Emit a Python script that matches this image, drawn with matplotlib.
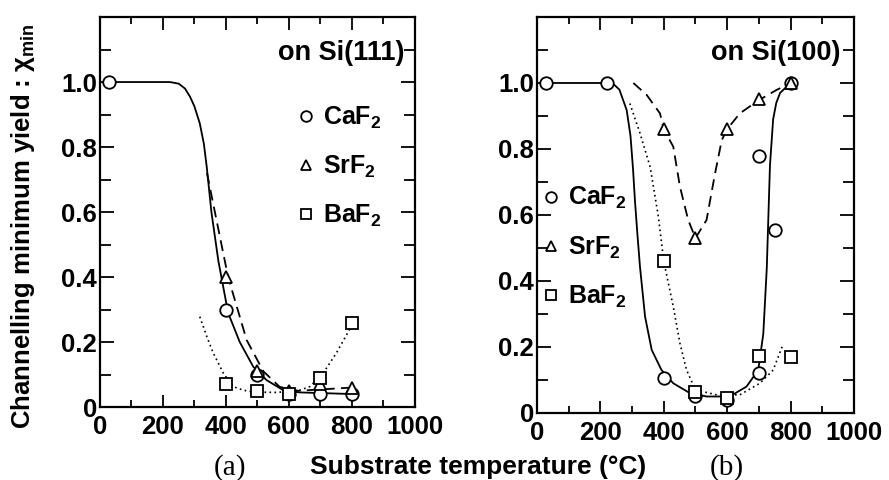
import matplotlib
matplotlib.use('Agg')
import matplotlib.pyplot as plt
from matplotlib.ticker import MultipleLocator, FuncFormatter

plt.rcParams['font.family'] = ['Liberation Sans', 'DejaVu Sans']
plt.rcParams['font.weight'] = 'bold'
plt.rcParams['axes.labelweight'] = 'bold'
plt.rcParams['mathtext.default'] = 'regular'

# ---- (a) on Si(111): measured points
a_caf2_x = [30, 400, 500, 600, 700, 800]
a_caf2_y = [1.0, 0.30, 0.10, 0.04, 0.04, 0.04]
a_srf2_x = [400, 500, 600, 700, 800]
a_srf2_y = [0.40, 0.11, 0.05, 0.07, 0.06]
a_baf2_x = [400, 500, 600, 700, 800]
a_baf2_y = [0.07, 0.05, 0.04, 0.09, 0.26]

# hand-drawn guide curves
a_caf2_fit_x = [30, 222, 250, 270, 286, 300, 317, 330, 339, 354, 376, 407, 444, 487,
                529, 582, 635, 800]
a_caf2_fit_y = [1.0, 1.0, 0.995, 0.98, 0.955, 0.925, 0.873, 0.81, 0.74, 0.60, 0.45,
                0.29, 0.20, 0.124, 0.083, 0.052, 0.045, 0.04]
a_srf2_fit_x = [340, 365, 407, 466, 519, 571, 630, 800]
a_srf2_fit_y = [0.72, 0.60, 0.40, 0.206, 0.11, 0.062, 0.05, 0.06]
a_baf2_fit_x = [317, 340, 360, 392, 423, 455, 487, 560, 630, 667, 709, 751, 804]
a_baf2_fit_y = [0.278, 0.215, 0.166, 0.104, 0.063, 0.052, 0.046, 0.045, 0.05, 0.063,
                0.104, 0.166, 0.258]

# ---- (b) on Si(100): measured points
b_caf2_x = [30, 220, 400, 500, 600, 700, 700, 750, 800]
b_caf2_y = [1.0, 1.0, 0.105, 0.05, 0.04, 0.12, 0.78, 0.555, 1.0]
b_srf2_x = [400, 500, 600, 700, 800]
b_srf2_y = [0.86, 0.53, 0.86, 0.95, 1.0]
b_baf2_x = [400, 500, 600, 700, 800]
b_baf2_y = [0.46, 0.065, 0.045, 0.173, 0.17]

b_caf2_fit_x = [30, 220, 240, 260, 283, 295, 303, 309, 317, 325, 341, 362, 393, 430,
                483, 535, 608, 661, 698, 714, 725, 735, 745, 755, 767, 800]
b_caf2_fit_y = [1.0, 1.0, 0.998, 0.98, 0.918, 0.84, 0.74, 0.645, 0.54, 0.443, 0.292,
                0.191, 0.13, 0.09, 0.06, 0.05, 0.05, 0.08, 0.13, 0.24, 0.44, 0.75,
                0.89, 0.94, 0.97, 1.0]
b_srf2_fit_x = [304, 346, 388, 400, 430, 451, 477, 500, 535, 562, 583, 600, 640, 700,
                756, 800, 835]
b_srf2_fit_y = [1.0, 0.964, 0.908, 0.86, 0.807, 0.686, 0.585, 0.53, 0.585, 0.727,
                0.827, 0.86, 0.908, 0.948, 0.979, 1.0, 1.0]
b_baf2_fit_x = [293, 325, 357, 383, 400, 430, 451, 472, 500, 567, 640, 703, 745, 777]
b_baf2_fit_y = [0.938, 0.848, 0.746, 0.595, 0.46, 0.322, 0.211, 0.13, 0.07, 0.055,
                0.055, 0.09, 0.13, 0.21]

labels = ['CaF$_2$', 'SrF$_2$', 'BaF$_2$']
panel_titles = ['on Si(111)', 'on Si(100)']

fig = plt.figure(figsize=(8.89, 4.8), dpi=100)
ax1 = fig.add_axes([0.1125, 0.152, 0.354, 0.8125])
ax2 = fig.add_axes([0.604, 0.1396, 0.3566, 0.825])

mk = dict(linestyle='none', mfc='white', mec='black', ms=9, mew=1.3, zorder=3)


def draw(ax, pts, fits):
    (cx, cy), (sx, sy), (bx, by) = fits
    ax.plot(cx, cy, '-', color='black', lw=1.3)
    ax.plot(sx, sy, color='black', lw=1.3, dashes=(6, 3.5))
    ax.plot(bx, by, color='black', lw=1.2, dashes=(1, 2))
    h = []
    for (x, y), m in zip(pts, ['o', '^', 's']):
        h.append(ax.plot(x, y, marker=m, **mk)[0])
    return h


def style(ax, title, tx):
    ax.set_xlim(0, 1000)
    ax.set_ylim(0, 1.2)
    ax.xaxis.set_major_locator(MultipleLocator(200))
    ax.xaxis.set_minor_locator(MultipleLocator(100))
    ax.yaxis.set_major_locator(MultipleLocator(0.2))
    ax.yaxis.set_minor_locator(MultipleLocator(0.1))
    ax.yaxis.set_major_formatter(FuncFormatter(lambda v, p: '0' if v == 0 else ('' if v > 1.05 else f'{v:.1f}')))
    ax.tick_params(axis='x', which='major', direction='in', top=True, length=9, width=1.3,
                   labelsize=18.5, pad=6)
    ax.tick_params(axis='x', which='minor', direction='in', top=True, length=5, width=1.3)
    ax.tick_params(axis='y', which='major', direction='in', right=True, length=10, width=1.3,
                   labelsize=18.5, pad=2)
    ax.tick_params(axis='y', which='minor', direction='in', right=True, length=8, width=1.3)
    for s in ax.spines.values():
        s.set_linewidth(1.6)
    ax.text(tx, 0.908, title, transform=ax.transAxes, ha='right', va='center', fontsize=19.5)


h1 = draw(ax1, [(a_caf2_x, a_caf2_y), (a_srf2_x, a_srf2_y), (a_baf2_x, a_baf2_y)],
          [(a_caf2_fit_x, a_caf2_fit_y), (a_srf2_fit_x, a_srf2_fit_y), (a_baf2_fit_x, a_baf2_fit_y)])
h2 = draw(ax2, [(b_caf2_x, b_caf2_y), (b_srf2_x, b_srf2_y), (b_baf2_x, b_baf2_y)],
          [(b_caf2_fit_x, b_caf2_fit_y), (b_srf2_fit_x, b_srf2_fit_y), (b_baf2_fit_x, b_baf2_fit_y)])
style(ax1, panel_titles[0], 0.968)
style(ax2, panel_titles[1], 0.956)

leg_kw = dict(frameon=False, fontsize=18, handlelength=0.6, handletextpad=0.4,
              labelspacing=0.92, markerscale=0.85, borderpad=0, borderaxespad=0)
ax1.legend(h1, labels, loc='upper left', bbox_to_anchor=(0.63, 0.775), **leg_kw)
ax2.legend(h2, labels, loc='upper left', bbox_to_anchor=(0.02, 0.575), **leg_kw)

ax1.set_ylabel('Channelling minimum yield : χ$_{min}$', fontsize=18.5)
ax1.yaxis.set_label_coords(-0.2, 0.464)

fig.text(0.538, 0.012, 'Substrate temperature (°C)', ha='center', va='baseline', fontsize=19)
fig.text(0.259, 0.012, '(a)', ha='center', va='baseline', fontsize=21,
         family='Liberation Serif', weight='normal')
fig.text(0.817, 0.012, '(b)', ha='center', va='baseline', fontsize=21,
         family='Liberation Serif', weight='normal')

fig.savefig('out.png', dpi=100)
